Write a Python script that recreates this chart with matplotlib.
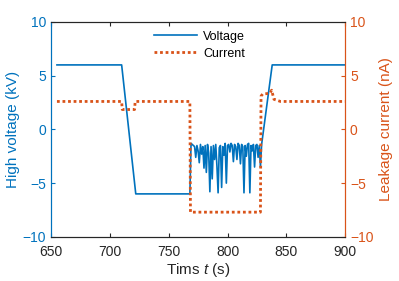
import matplotlib
matplotlib.use("Agg")
import matplotlib.pyplot as plt

plt.rcParams["font.family"] = ["Liberation Sans", "DejaVu Sans"]
plt.rcParams["mathtext.fontset"] = "custom"
plt.rcParams["mathtext.it"] = "Liberation Sans:italic"
plt.rcParams["mathtext.rm"] = "Liberation Sans"

blue = "#0072BD"
orange = "#D95319"
dark = "#262626"

# voltage (kV)
v_time = [655, 710, 722, 768, 769, 770, 771, 772, 773, 774, 775, 776, 777, 778, 779,
          780, 781, 782, 783, 784, 785, 786, 787, 788, 789, 790, 791, 792, 793, 794,
          795, 796, 797, 798, 799, 800, 801, 802, 803, 804, 805, 806, 807, 808, 809,
          810, 811, 812, 813, 814, 815, 816, 817, 818, 819, 820, 821, 822, 823, 824,
          825, 826, 827, 828, 829, 838, 900]
v_vals = [6.0, 6.0, -6.0, -6.0, -1.3, -1.4, -1.5, -1.6, -2.6, -1.5, -2.0, -3.1, -1.4, -2.3, -1.6,
          -3.6, -1.5, -4.0, -1.4, -2.2, -5.8, -1.6, -4.6, -1.5, -2.8, -1.4, -3.4, -5.9, -1.7, -1.5,
          -5.4, -1.6, -2.4, -1.3, -5.0, -1.5, -1.4, -2.1, -1.3, -1.5, -3.0, -1.4, -1.6, -2.8, -1.3,
          -1.5, -3.2, -1.4, -1.6, -5.9, -1.5, -2.5, -1.4, -1.3, -5.9, -1.5, -2.0, -1.4, -3.5, -1.5,
          -1.4, -2.6, -1.5, -3.5, -1.4, 6.0, 6.0]

# leakage current (nA)
c_time = [655, 710, 710.5, 721, 721.5, 768, 768.5, 828, 828.5, 830, 836, 837.5, 839.5, 845, 900]
c_vals = [2.6, 2.6, 1.85, 1.85, 2.6, 2.6, -7.7, -7.7, 3.1, 3.3, 3.35, 3.65, 2.8, 2.6, 2.6]

fig = plt.figure(figsize=(3.99, 2.81), dpi=100)
ax = fig.add_axes([0.128, 0.157, 0.737, 0.765])
ax2 = ax.twinx()

l1, = ax.plot(v_time, v_vals, color=blue, linewidth=1.2, label="Voltage")
l2, = ax2.plot(c_time, c_vals, color=orange, linewidth=2.0, linestyle=(0, (1, 1)),
               label="Current")

ax.set_xlim(650, 900)
ax.set_ylim(-10, 10)
ax2.set_ylim(-10, 10)
ax.set_xticks([650, 700, 750, 800, 850, 900])
ax.set_yticks([-10, -5, 0, 5, 10])
ax2.set_yticks([-10, -5, 0, 5, 10])

ax.tick_params(axis="x", direction="in", top=True, colors=dark, labelsize=10, length=3, pad=6)
ax.tick_params(axis="y", direction="in", colors=blue, labelsize=10, length=3)
ax2.tick_params(axis="y", direction="in", colors=orange, labelsize=10, length=3)

for a in (ax, ax2):
    a.spines["top"].set_color(dark)
    a.spines["bottom"].set_color(dark)
    a.spines["left"].set_color(blue)
    a.spines["right"].set_color(orange)
    for s in a.spines.values():
        s.set_linewidth(0.8)

ax.set_xlabel("Tims $t$ (s)", fontsize=11, color=dark, labelpad=1)
ax.set_ylabel("High voltage (kV)", fontsize=11, color=blue, labelpad=2)
ax2.set_ylabel("Leakage current (nA)", fontsize=11, color=orange, labelpad=4)

ax2.legend([l1, l2], ["Voltage", "Current"], loc="upper center", frameon=False,
           fontsize=9, handlelength=3.4, handletextpad=0.5, borderaxespad=0.3,
           labelspacing=0.4, bbox_to_anchor=(0.505, 1.0))

fig.savefig("out.png", dpi=100)
